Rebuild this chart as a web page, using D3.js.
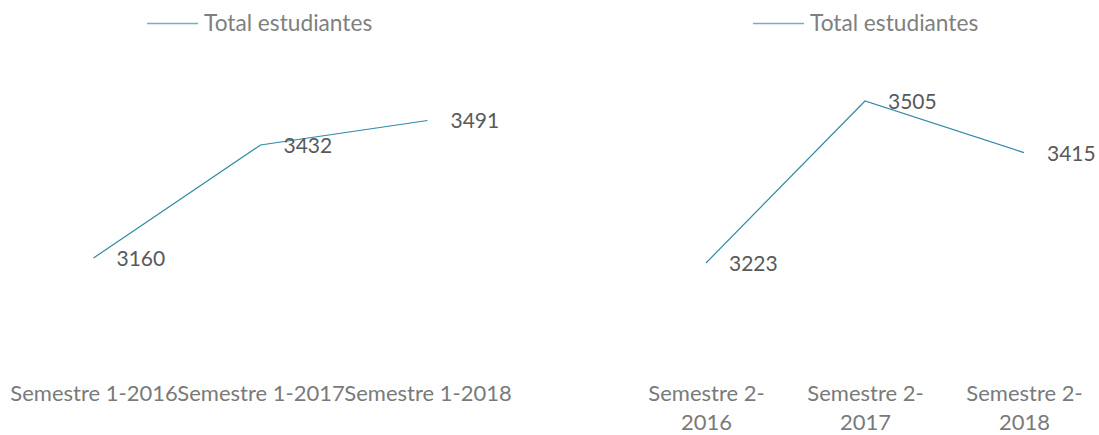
<!DOCTYPE html>
<html>
<head>
<meta charset="utf-8">
<script src="https://cdn.jsdelivr.net/npm/d3@7/dist/d3.min.js"></script>
<style>
  body { margin: 0; background: #fff; }
  text { font-family: Lato, "Open Sans", sans-serif; }
</style>
</head>
<body>
<svg id="chart" width="1099" height="435"></svg>
<script>
const seriesName = 'Total estudiantes';
const sem1Labels = ['Semestre 1-2016', 'Semestre 1-2017', 'Semestre 1-2018'];
const sem1Values = [3160, 3432, 3491];
const sem2Labels = ['Semestre 2-2016', 'Semestre 2-2017', 'Semestre 2-2018'];
const sem2Values = [3223, 3505, 3415];

const lineColor = '#3189ab';
const svg = d3.select('#chart');

const panels = [
  { labels: sem1Labels, values: sem1Values, xRange: [10, 511], yRange: [324.5, 75.2], legendX: 147, wrap: false },
  { labels: sem2Labels, values: sem2Values, xRange: [626.5, 1103.5], yRange: [391.1, 46.4], legendX: 753, wrap: true }
];

const drawPanel = (p) => {
  const g = svg.append('g');
  const x = d3.scalePoint().domain(p.labels).range(p.xRange).padding(0.5);
  const y = d3.scaleLinear().domain([3000, 3600]).range(p.yRange);
  const data = p.labels.map((l, i) => ({ label: l, value: p.values[i] }));

  // legend
  const lg = g.append('g').attr('transform', `translate(${p.legendX},23.5)`);
  lg.append('line').attr('x1', 0).attr('x2', 51).attr('y1', 0).attr('y2', 0)
    .attr('stroke', '#6fb0c8').attr('stroke-width', 1.5);
  lg.append('text').attr('x', 57).attr('y', 7.5)
    .attr('font-size', 22.7).attr('fill', '#7f7f7f').text(seriesName);

  // line
  g.append('path').datum(data)
    .attr('fill', 'none').attr('stroke', lineColor).attr('stroke-width', 1.2)
    .attr('d', d3.line().x((d) => x(d.label)).y((d) => y(d.value)));

  // data labels
  g.selectAll('.dlabel').data(data).enter().append('text')
    .attr('class', 'dlabel')
    .attr('x', (d) => x(d.label) + 23)
    .attr('y', (d) => y(d.value) + 8)
    .attr('font-size', 21).attr('fill', '#595959')
    .text((d) => d.value);

  // category labels (no axis line, like the original)
  const axis = g.append('g').attr('transform', 'translate(0,401)')
    .call(d3.axisBottom(x).tickSize(0).tickPadding(0));
  axis.select('.domain').remove();
  axis.selectAll('text')
    .attr('font-size', 22).attr('fill', '#7a7a7a')
    .attr('font-family', 'Lato, "Open Sans", sans-serif')
    .attr('dy', 0).attr('y', 0)
    .each(function (d) {
      if (!p.wrap) return;
      const t = d3.select(this);
      const parts = d.split('-');
      t.text(null);
      t.append('tspan').attr('x', 0).attr('y', 0).text(parts[0] + '-');
      t.append('tspan').attr('x', 0).attr('y', 29).text(parts[1]);
    });
};

panels.forEach(drawPanel);
</script>
</body>
</html>
